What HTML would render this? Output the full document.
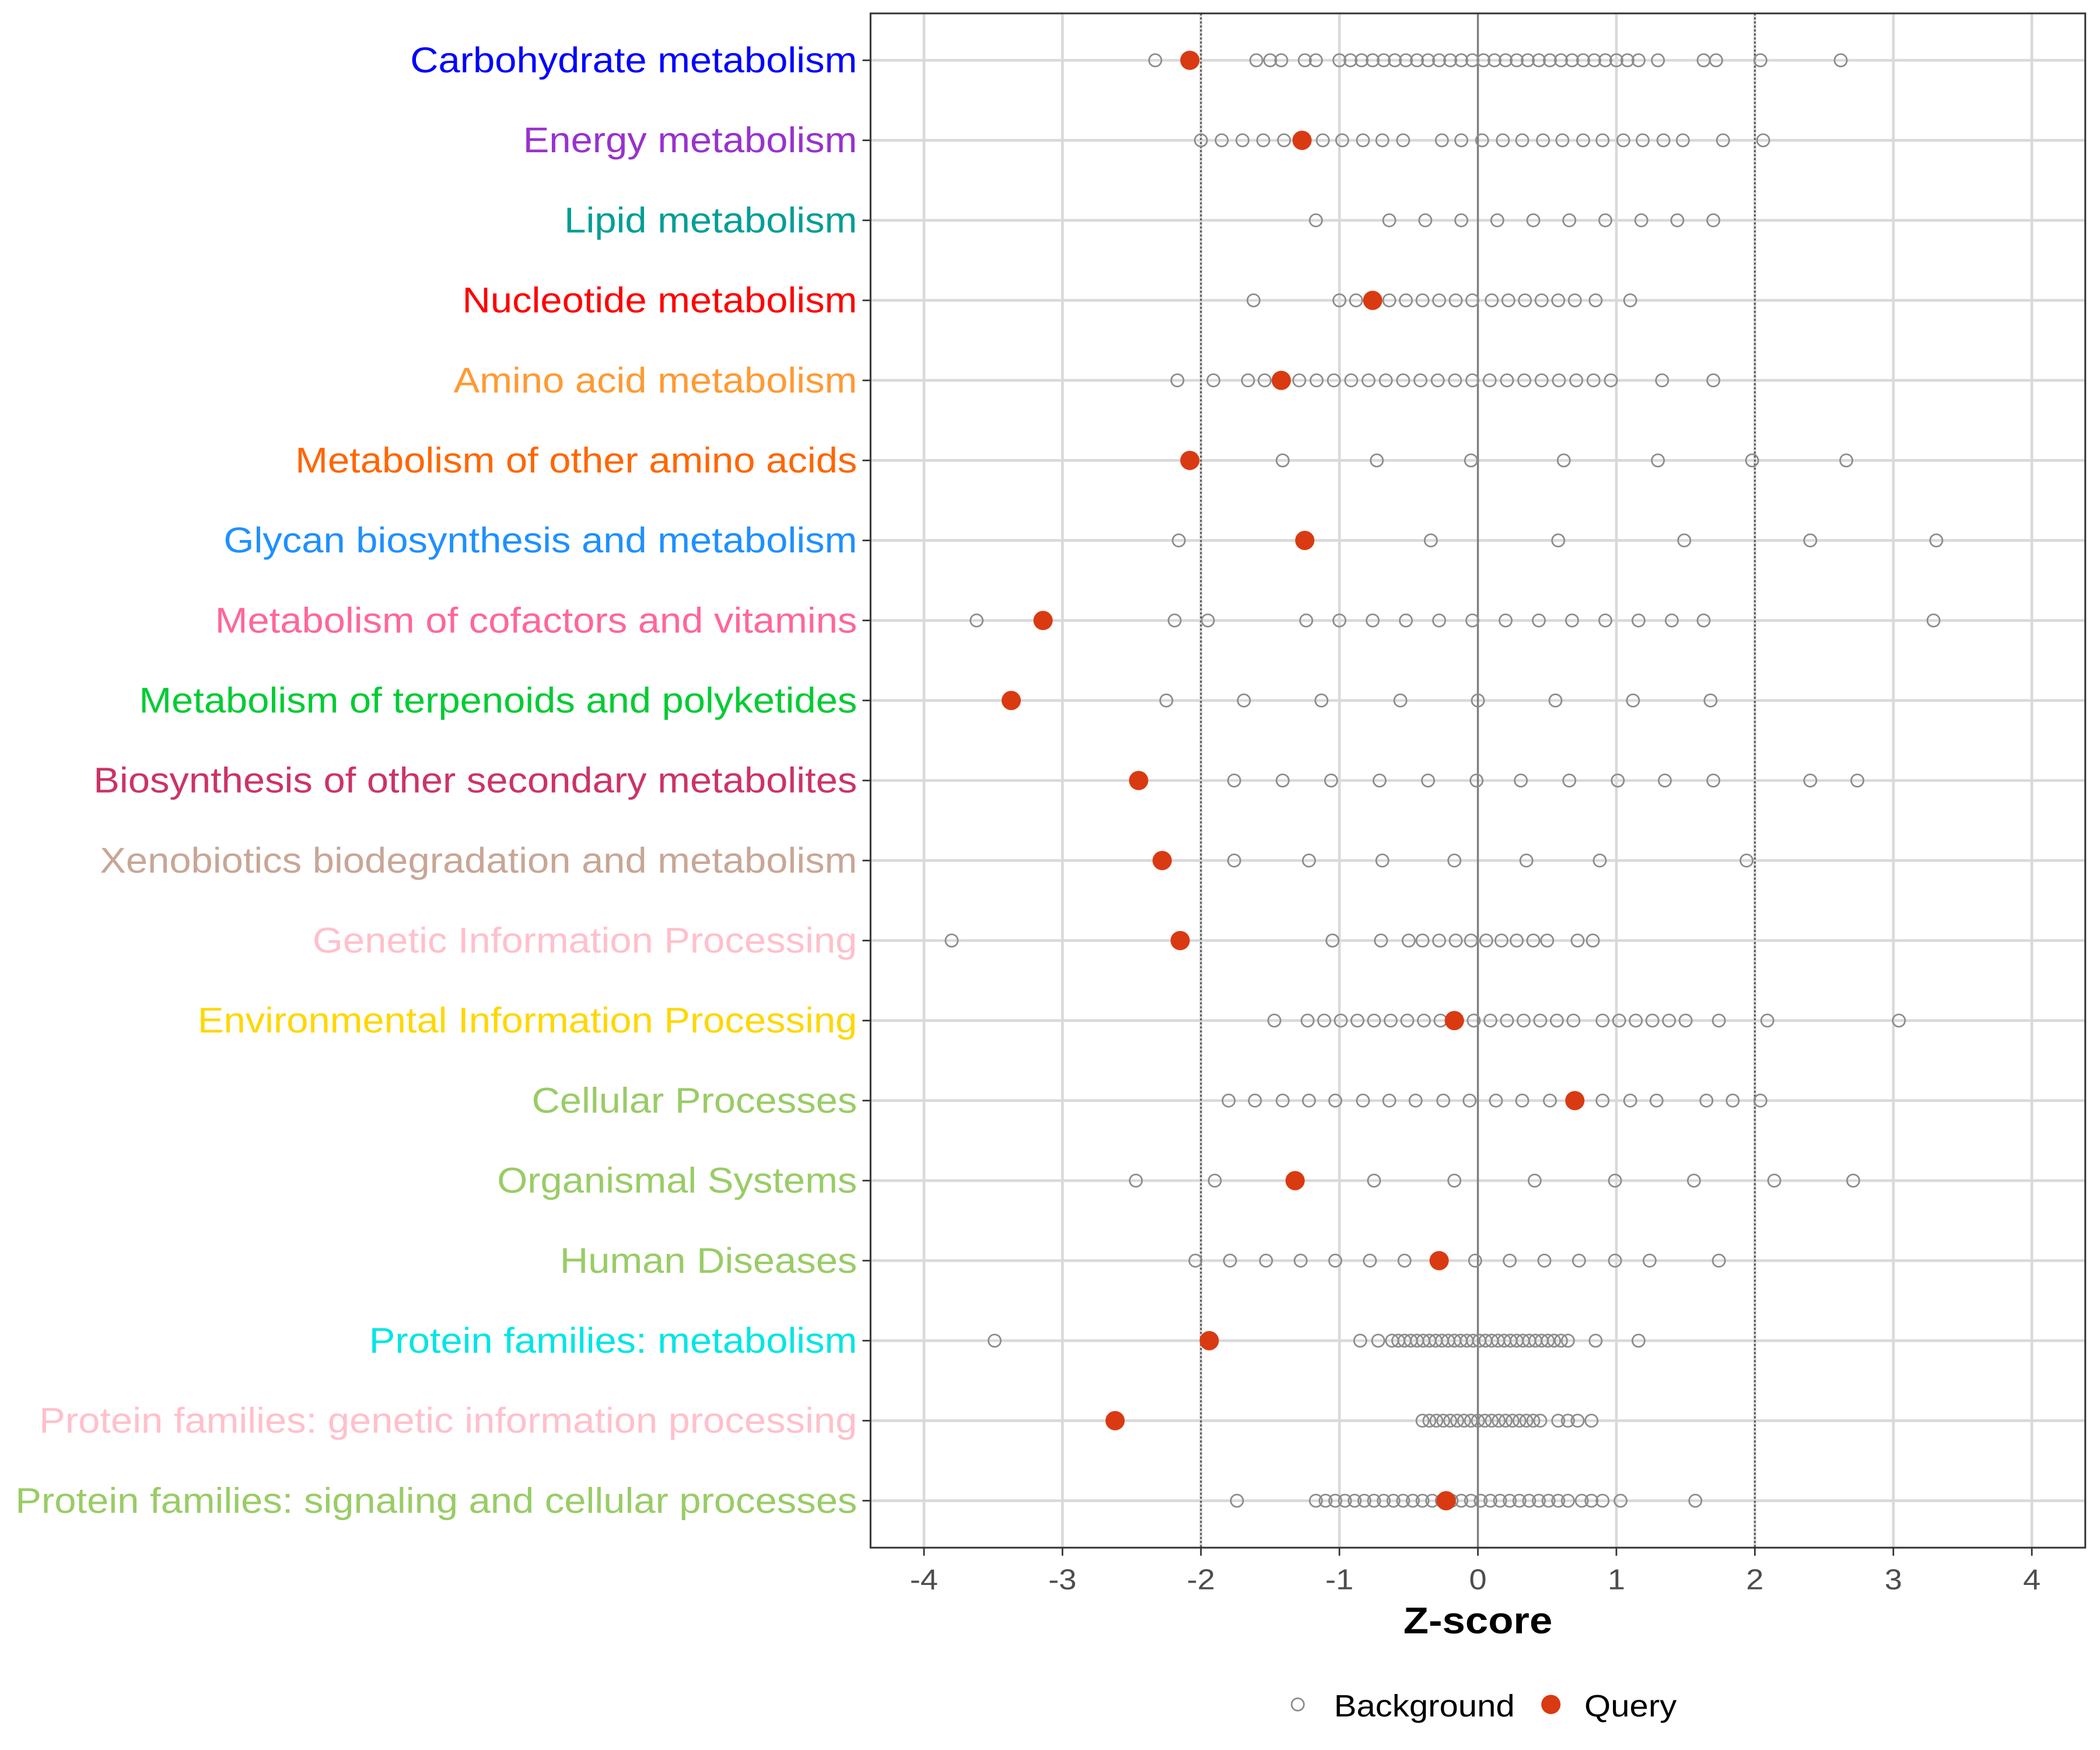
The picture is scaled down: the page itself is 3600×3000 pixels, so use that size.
<!DOCTYPE html>
<html><head><meta charset="utf-8"><style>html,body{margin:0;padding:0;background:#fff}svg{display:block}</style></head>
<body>
<svg id="s" xmlns="http://www.w3.org/2000/svg" width="3600" height="3000" viewBox="0 0 1568 1306" preserveAspectRatio="none" font-family="Liberation Sans, Arial, sans-serif"></svg>
<script>
const S=document.getElementById('s');
const X=z=>1103.5+z*103.4, Y=i=>45+i*59.72;
function rng(a,b,st){const r=[];for(let v=a;v<=b+1e-9;v+=st)r.push(+v.toFixed(3));return r;}
const rows=[
["Carbohydrate metabolism","#0000FF",[-2.33,-1.6,-1.5,-1.42,-1.25,-1.17,...rng(-1.0,1.17,0.08),1.3,1.63,1.72,2.04,2.62],-2.08],
["Energy metabolism","#9932CC",[-2.0,-1.85,-1.7,-1.55,-1.4,-1.12,-0.98,-0.83,-0.69,-0.54,-0.26,-0.12,0.03,0.18,0.32,0.47,0.61,0.76,0.9,1.05,1.19,1.34,1.48,1.77,2.06],-1.27],
["Lipid metabolism","#009E96",[-1.17,-0.64,-0.38,-0.12,0.14,0.4,0.66,0.92,1.18,1.44,1.7],null],
["Nucleotide metabolism","#FF0000",[-1.62,-1.0,-0.88,-0.64,-0.52,-0.4,-0.28,-0.16,-0.04,0.1,0.22,0.34,0.46,0.58,0.7,0.85,1.1],-0.76],
["Amino acid metabolism","#FF9A33",[-2.17,-1.91,-1.66,-1.54,...rng(-1.29,1.08,0.125),1.33,1.7],-1.42],
["Metabolism of other amino acids","#FF6600",[-2.08,-1.41,-0.73,-0.05,0.62,1.3,1.98,2.66],-2.08],
["Glycan biosynthesis and metabolism","#1E90FF",[-2.16,-0.34,0.58,1.49,2.4,3.31],-1.25],
["Metabolism of cofactors and vitamins","#FF6699",[-3.62,-2.19,-1.95,-1.24,-1.0,-0.76,-0.52,-0.28,-0.04,0.2,0.44,0.68,0.92,1.16,1.4,1.63,3.29],-3.14],
["Metabolism of terpenoids and polyketides","#00CC33",[-2.25,-1.69,-1.13,-0.56,0,0.56,1.12,1.68],-3.37],
["Biosynthesis of other secondary metabolites","#CC3366",[-1.76,-1.41,-1.06,-0.71,-0.36,-0.01,0.31,0.66,1.01,1.35,1.7,2.4,2.74],-2.45],
["Xenobiotics biodegradation and metabolism","#C8A696",[-1.76,-1.22,-0.69,-0.17,0.35,0.88,1.94],-2.28],
["Genetic Information Processing","#FFC0CB",[-3.8,-1.05,-0.7,-0.5,-0.4,-0.28,-0.16,-0.05,0.06,0.17,0.28,0.4,0.5,0.72,0.83],-2.15],
["Environmental Information Processing","#FFD700",[-1.47,...rng(-1.23,0.69,0.12),0.9,1.02,1.14,1.26,1.38,1.5,1.74,2.09,3.04],-0.17],
["Cellular Processes","#99CC66",[-1.8,-1.61,-1.41,-1.22,-1.03,-0.83,-0.64,-0.45,-0.25,-0.06,0.13,0.32,0.52,0.71,0.9,1.1,1.29,1.65,1.84,2.04],0.7],
["Organismal Systems","#99CC66",[-2.47,-1.9,-0.75,-0.17,0.41,0.99,1.56,2.14,2.71],-1.32],
["Human Diseases","#99CC66",[-2.04,-1.79,-1.53,-1.28,-1.03,-0.78,-0.53,-0.28,-0.02,0.23,0.48,0.73,0.99,1.24,1.74],-0.28],
["Protein families: metabolism","#00E5E5",[-3.49,-0.85,-0.72,...rng(-0.62,0.55,0.045),0.6,0.65,0.85,1.16],-1.94],
["Protein families: genetic information processing","#FFC0CB",[...rng(-0.4,0.45,0.05),0.58,0.65,0.72,0.82],-2.62],
["Protein families: signaling and cellular processes","#99CC66",[-1.74,...rng(-1.17,0.65,0.07),0.75,0.82,0.9,1.03,1.57],-0.23]
];
let h='';
for(let i=0;i<rows.length;i++)h+=`<line x1="650" x2="1557" y1="${Y(i)}" y2="${Y(i)}" stroke="#D9D9D9" stroke-width="2"/>`;
for(let z=-4;z<=4;z++){
 if(z===0)h+=`<line x1="${X(0)}" x2="${X(0)}" y1="10" y2="1155" stroke="#7F7F7F" stroke-width="1.5"/>`;
 else if(Math.abs(z)===2)h+=`<line x1="${X(z)}" x2="${X(z)}" y1="10" y2="1155" stroke="#D9D9D9" stroke-width="2"/><line x1="${X(z)}" x2="${X(z)}" y1="10" y2="1155" stroke="#555" stroke-width="1.3" stroke-dasharray="1.5,1.5"/>`;
 else h+=`<line x1="${X(z)}" x2="${X(z)}" y1="10" y2="1155" stroke="#D9D9D9" stroke-width="2"/>`;
 h+=`<line x1="${X(z)}" x2="${X(z)}" y1="1155" y2="1161" stroke="#333" stroke-width="1.2"/>`;
 h+=`<text x="${X(z)}" y="1186" font-size="21.5" fill="#4D4D4D" text-anchor="middle">${z}</text>`;
}
rows.forEach((r,i)=>{
 const y=Y(i);
 h+=`<line x1="644" x2="650" y1="${y}" y2="${y}" stroke="#333" stroke-width="1.2"/>`;
 h+=`<text x="640" y="${y+9}" font-size="26.5" fill="${r[1]}" text-anchor="end">${r[0]}</text>`;
 r[2].forEach(z=>h+=`<circle cx="${X(z)}" cy="${y}" r="4.6" fill="none" stroke="#8C8C8C" stroke-width="1.2"/>`);
 if(r[3]!==null)h+=`<circle cx="${X(r[3])}" cy="${y}" r="7.2" fill="#D93A12"/>`;
});
h+=`<rect x="650" y="10" width="907" height="1145" fill="none" stroke="#333" stroke-width="1.3"/>`;
h+=`<text x="1103.5" y="1219" font-size="28" font-weight="bold" text-anchor="middle" fill="#000">Z-score</text>`;
h+=`<circle cx="969" cy="1272" r="4.6" fill="none" stroke="#8C8C8C" stroke-width="1.2"/><text x="996" y="1281" font-size="23" fill="#000">Background</text>`;
h+=`<circle cx="1158" cy="1272" r="7.2" fill="#D93A12"/><text x="1183" y="1281" font-size="23" fill="#000">Query</text>`;
S.innerHTML=h;
S.querySelectorAll('text').forEach(t=>{
 const L=t.getComputedTextLength();
 if(L>0){t.setAttribute('textLength',(L*1.1).toFixed(1));t.setAttribute('lengthAdjust','spacingAndGlyphs');}
});
</script>
</body></html>
